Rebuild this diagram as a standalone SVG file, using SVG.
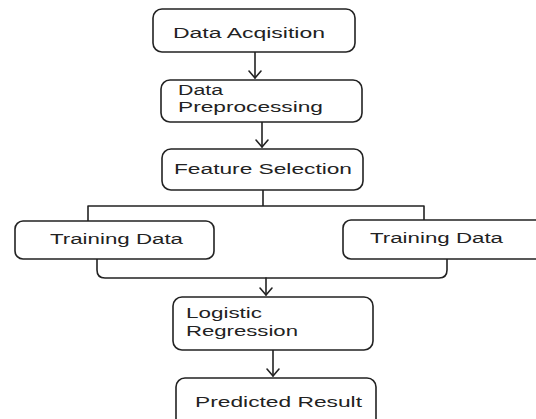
<svg xmlns="http://www.w3.org/2000/svg" width="536" height="419" viewBox="0 0 536 419">
<style>
.box{fill:#fff;stroke:#222;stroke-width:1.6}
.ln{fill:none;stroke:#222;stroke-width:1.6;stroke-linecap:round;stroke-linejoin:round}
.t{font-family:"Liberation Sans",Arial,sans-serif;font-size:14px;fill:#222}
</style>
<defs>
<marker id="ah" markerUnits="userSpaceOnUse" markerWidth="12" markerHeight="16" refX="10" refY="8" orient="auto" viewBox="0 0 12 16">
<path d="M3,2 L10,8 L3,14" fill="none" stroke="#222" stroke-width="1.6" stroke-linecap="round" stroke-linejoin="round"/>
</marker>
</defs>
<rect width="536" height="419" fill="#fff"/>
<g id="connectors">
<path class="ln" d="M255,52 L255,78" marker-end="url(#ah)"/>
<path class="ln" d="M262,122 L262,147" marker-end="url(#ah)"/>
<path class="ln" d="M263,190 L263,206 M88,221 L88,206 L424,206 L424,221"/>
<path class="ln" d="M97,259 L97,270 Q97,278 105,278 L439,278 Q447,278 447,270 L447,259"/>
<path class="ln" d="M266,278 L266,295" marker-end="url(#ah)"/>
<path class="ln" d="M273,350 L273,376" marker-end="url(#ah)"/>
</g>
<g id="data-acquisition">
<rect class="box" x="153" y="9" width="202" height="43" rx="9"/>
<text class="t" x="173" y="38" textLength="152" lengthAdjust="spacingAndGlyphs">Data Acqisition</text>
</g>
<g id="data-preprocessing">
<rect class="box" x="161" y="80" width="201" height="42" rx="9"/>
<text class="t" x="178" y="95" textLength="45" lengthAdjust="spacingAndGlyphs">Data</text>
<text class="t" x="178" y="112" textLength="145" lengthAdjust="spacingAndGlyphs">Preprocessing</text>
</g>
<g id="feature-selection">
<rect class="box" x="162" y="149" width="201" height="41" rx="9"/>
<text class="t" x="174" y="174" textLength="178" lengthAdjust="spacingAndGlyphs">Feature Selection</text>
</g>
<g id="training-data-left">
<rect class="box" x="15" y="221" width="199" height="38" rx="8"/>
<text class="t" x="50" y="244" textLength="133" lengthAdjust="spacingAndGlyphs">Training Data</text>
</g>
<g id="training-data-right">
<rect class="box" x="343" y="220" width="205" height="39" rx="8"/>
<text class="t" x="370" y="243" textLength="133" lengthAdjust="spacingAndGlyphs">Training Data</text>
</g>
<g id="logistic-regression">
<rect class="box" x="173" y="297" width="200" height="53" rx="9"/>
<text class="t" x="186" y="318" textLength="76" lengthAdjust="spacingAndGlyphs">Logistic</text>
<text class="t" x="186" y="336" textLength="112" lengthAdjust="spacingAndGlyphs">Regression</text>
</g>
<g id="predicted-result">
<rect class="box" x="176" y="378" width="200" height="50" rx="9"/>
<text class="t" x="195" y="407" textLength="167" lengthAdjust="spacingAndGlyphs">Predicted Result</text>
</g>
</svg>
